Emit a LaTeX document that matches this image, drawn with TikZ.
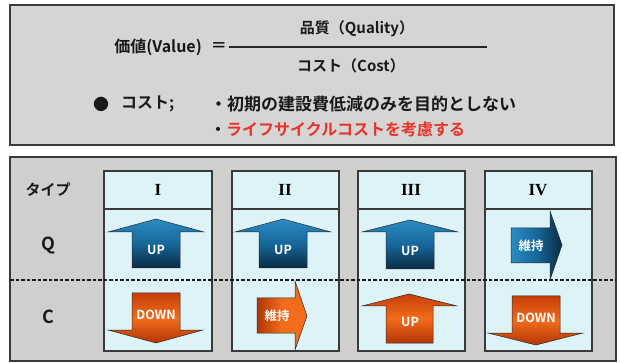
\documentclass[tikz,border=0pt]{standalone}
\usepackage{fontspec}
\setmainfont{Noto Sans CJK JP}[BoldFont={Noto Sans CJK JP Bold}]
\newfontfamily\romfont{Liberation Serif}
\definecolor{bgtop}{HTML}{D5D5D3}
\definecolor{bgbot}{HTML}{CFCFCD}
\definecolor{frame}{HTML}{3A3A3A}
\definecolor{cyanbox}{HTML}{DDF3F8}
\definecolor{redtxt}{HTML}{E8322A}
\definecolor{bA}{HTML}{2A8CC2}
\definecolor{bB}{HTML}{17679A}
\definecolor{bC}{HTML}{0A2B44}
\definecolor{oA}{HTML}{C63E08}
\definecolor{oB}{HTML}{F26C1C}
\definecolor{oC}{HTML}{B23606}
\definecolor{aline}{HTML}{2A2A2A}
\tikzset{
  panel/.style={draw=frame, line width=1.2pt},
  colbox/.style={draw=frame, fill=cyanbox, line width=1.1pt},
  bluev/.style={draw=aline, line width=0.5pt, top color=bA, bottom color=bC, middle color=bB},
  blueh/.style={draw=aline, line width=0.5pt, left color=bA, right color=bC, middle color=bB},
  orangev/.style={draw=aline, line width=0.5pt, top color=oA, bottom color=oC, middle color=oB},
  orangeh/.style={draw=aline, line width=0.5pt, left color=oC, right color=oB, middle color=oB},
  jtxt/.style={inner sep=0pt, font=\bfseries\fontsize{16}{18}\selectfont, text=black!90},
  hdr/.style={inner sep=0pt, font=\romfont\bfseries\fontsize{17}{19}\selectfont},
  rowlbl/.style={inner sep=0pt, font=\bfseries\fontsize{18}{20}\selectfont, text=black!90},
  arrlbl/.style={inner sep=0pt, font=\bfseries\fontsize{12.5}{14}\selectfont, text=white},
}
\begin{document}
\begin{tikzpicture}[x=1pt,y=-1pt]
\useasboundingbox (0,0) rectangle (621,363);
\fill[white] (0,0) rectangle (621,363);

% ---------- top panel ----------
\draw[panel, fill=bgtop] (10,5) rectangle (614,145);
\node[jtxt, anchor=east] (val) at (202,47) {価値(Value)};
\node[jtxt, anchor=east] (eq) at (227,47) {＝};
\coordinate (fl) at (229,47);
\coordinate (fr) at (487,47);
\draw[line width=2.6pt, black!85] (fl) -- (fr);
\node[jtxt, font=\bfseries\fontsize{15}{17}\selectfont] (qual) at (357,29) {品質（Quality）};
\node[jtxt, font=\bfseries\fontsize{15}{17}\selectfont] (cost) at (351,66) {コスト（Cost）};
\node[jtxt, anchor=center] (dot) at (101,104) {●};
\node[jtxt, anchor=west] (costl) at (121,104) {コスト;};
\node[jtxt, anchor=west, font=\bfseries\fontsize{17}{19}\selectfont] (l1) at (210,104) {・初期の建設費低減のみを目的としない};
\node[jtxt, anchor=west, font=\bfseries\fontsize{16}{19}\selectfont] (l2) at (210,129) {・\textcolor{redtxt}{ライフサイクルコストを考慮する}};

% ---------- bottom panel ----------
\draw[panel, fill=bgbot] (10,157) rectangle (616,361);

% columns
\foreach \xl/\xr/\nm in {104/212/c1, 232/339/c2, 358/465/c3, 485/592/c4}{
  \draw[colbox] (\xl,171) rectangle (\xr,351);
  \draw[frame, line width=1.1pt] (\xl,209) -- (\xr,209);
}
\node[hdr] (h1) at (158,190) {I};
\node[hdr] (h2) at (285,190) {II};
\node[hdr] (h3) at (411,190) {III};
\node[hdr] (h4) at (538,190) {IV};

\node[rowlbl, font=\bfseries\fontsize{15}{17}\selectfont] (typ) at (48,190) {タイプ};
\node[rowlbl] (rq) at (48,246) {Q};
\node[rowlbl] (rc) at (48,317) {C};

% dashed divider
\coordinate (dl) at (10,280);
\coordinate (dr) at (616,280);
\draw[black!90, line width=1.2pt, dash pattern=on 3.5pt off 2pt] (dl) -- (dr);

% ---------- arrows: Q row ----------
\path[bluev] (156,219) -- (204,232) -- (180,232) -- (180,268) -- (132,268) -- (132,232) -- (108,232) -- cycle;
\path[bluev] (283,219) -- (331,232) -- (307,232) -- (307,268) -- (259,268) -- (259,232) -- (235,232) -- cycle;
\path[bluev] (410,220) -- (458,232) -- (434,232) -- (434,269) -- (386,269) -- (386,232) -- (362,232) -- cycle;
\path[blueh] (511,228) -- (550,228) -- (550,211) -- (562,245) -- (550,280) -- (550,263) -- (511,263) -- cycle;

% ---------- arrows: C row ----------
\path[orangev] (132,293) -- (180,293) -- (180,330) -- (203,330) -- (156,343) -- (108,330) -- (132,330) -- cycle;
\path[orangeh] (257,298) -- (295,298) -- (295,281) -- (307,316) -- (295,350) -- (295,333) -- (257,333) -- cycle;
\path[orangev] (409,294) -- (457,306) -- (433,306) -- (433,343) -- (386,343) -- (386,306) -- (362,306) -- cycle;
\path[orangev] (512,296) -- (560,296) -- (560,333) -- (583,333) -- (536,345) -- (488,333) -- (512,333) -- cycle;

% arrow labels
\node[arrlbl] (u1) at (156,250) {UP};
\node[arrlbl] (u2) at (283,250) {UP};
\node[arrlbl] (u3) at (410,251) {UP};
\node[arrlbl] (k4) at (531,246) {維持};
\node[arrlbl] (d1) at (156,315) {DOWN};
\node[arrlbl] (k2) at (277,316) {維持};
\node[arrlbl] (u3c) at (410,322) {UP};
\node[arrlbl] (d4) at (536,318) {DOWN};
\end{tikzpicture}
\end{document}
